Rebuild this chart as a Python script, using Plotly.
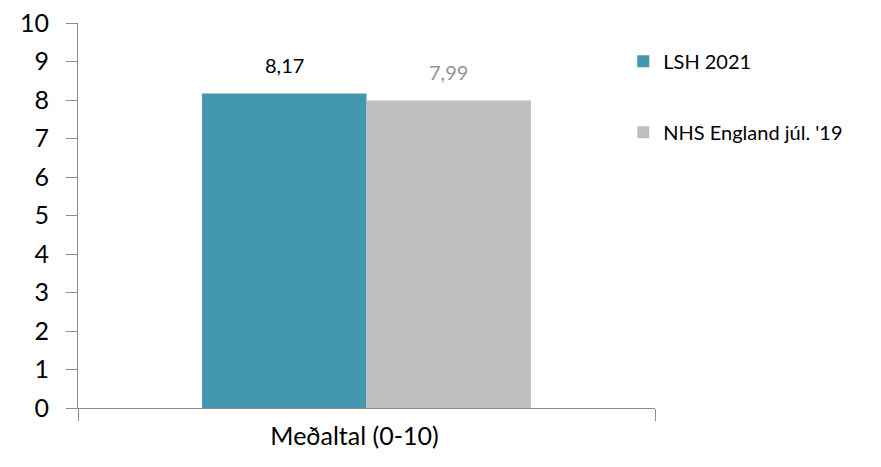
import plotly.graph_objects as go

categories = ["Meðaltal (0-10)"]
series_names = ["LSH 2021", "NHS England júl. '19"]
lsh_values = [8.17]
nhs_values = [7.99]
lsh_labels = ["8,17"]
nhs_labels = ["7,99"]
y_ticks = list(range(0, 11))

FONT = "Lato, 'Open Sans', sans-serif"
TEAL = "#4398B0"
GREY = "#BFBFBF"

W, H = 881, 467
ML, MR, MT, MB = 70, 234, 15, 67
BARGAP = 0.43
plot_w = W - ML - MR
bar_px = plot_w * (1 - BARGAP) / 2

fig = go.Figure()
fig.add_trace(go.Bar(
    x=categories, y=lsh_values, name=series_names[0], marker_color=TEAL,
    marker_line_width=0, legendgroup="a",
))
fig.add_trace(go.Bar(
    x=categories, y=nhs_values, name=series_names[1], marker_color=GREY,
    marker_line_width=0, legendgroup="b",
))

for cat, val, lab, sign, col in [
    (categories[0], lsh_values[0], lsh_labels[0], -1, "#000000"),
    (categories[0], nhs_values[0], nhs_labels[0], 1, "#959595"),
]:
    fig.add_annotation(x=cat, y=val, text=lab, showarrow=False, xref="x", yref="y",
                       xshift=sign * bar_px / 2, yshift=14, yanchor="bottom",
                       font=dict(size=20, family=FONT, color=col))

fig.update_layout(
    width=W, height=H,
    margin=dict(l=ML, r=MR, t=MT, b=MB, autoexpand=False),
    paper_bgcolor="white", plot_bgcolor="white",
    barmode="group", bargap=BARGAP, bargroupgap=0,
    font=dict(family=FONT, color="#000000"),
    showlegend=True,
    legend=dict(x=0.945, y=0.951, xanchor="left", yanchor="top",
                font=dict(size=20, family=FONT, color="#000000"),
                tracegroupgap=42, itemwidth=30, bgcolor="rgba(0,0,0,0)"),
    xaxis=dict(
        showline=True, linecolor="#8C8C8C", linewidth=1.2, automargin=False,
        ticks="outside", tickson="boundaries", ticklen=12, tickcolor="#8C8C8C",
        tickfont=dict(size=25, family=FONT, color="#000000"), ticklabelstandoff=6,
        ticklabelshift=-12, ticklabeloverflow="allow",
        showgrid=False, zeroline=False,
    ),
    yaxis=dict(
        range=[0, 10], tickvals=y_ticks, showline=True, linecolor="#8C8C8C", linewidth=1.2,
        ticks="outside", ticklen=11, tickcolor="#8C8C8C", automargin=False,
        tickfont=dict(size=25, family=FONT, color="#000000"), ticklabelstandoff=12,
        ticklabeloverflow="allow",
        showgrid=False, zeroline=False,
    ),
)

fig.write_html("out.html")
